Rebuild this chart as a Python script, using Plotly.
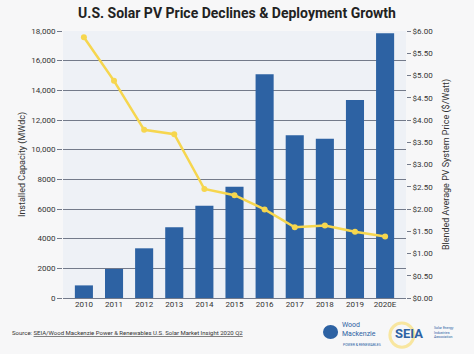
import plotly.graph_objects as go

years = ["2010", "2011", "2012", "2013", "2014", "2015", "2016", "2017", "2018", "2019", "2020E"]
capacity_mw = [850, 1960, 3350, 4770, 6220, 7500, 15080, 10970, 10740, 13350, 17850]
price_usd = [5.86, 4.88, 3.78, 3.68, 2.45, 2.31, 1.99, 1.59, 1.63, 1.49, 1.38]

left_tickvals = [0, 2000, 4000, 6000, 8000, 10000, 12000, 14000, 16000, 18000]
left_ticktext = ["0", "2000", "4000", "6000", "8000", "10,000", "12,000", "14,000", "16,000", "18,000"]

BAR = "#2D62A3"
LINE = "#F6D64E"
GRID = "#737A8A"
FONT = "Roboto"

fig = go.Figure()
fig.add_trace(go.Bar(x=years, y=capacity_mw, marker=dict(color=BAR, line=dict(width=0)),
                     name="Installed Capacity", yaxis="y"))
fig.add_trace(go.Scatter(x=years, y=price_usd, mode="lines+markers", yaxis="y2",
                         line=dict(color=LINE, width=2.5),
                         marker=dict(color=LINE, size=6), name="Price"))

fig.update_layout(
    width=474, height=354,
    margin=dict(l=63, r=68, t=31, b=56),
    paper_bgcolor="#F7F7F8",
    plot_bgcolor="#EEF1F6",
    showlegend=False,
    bargap=0.4,
    font=dict(family=FONT, color="#333333", size=8),
    title=dict(text="<b>U.S. Solar PV Price Declines &amp; Deployment Growth</b>",
               x=0.5, xanchor="center", y=0.963, yanchor="middle",
               font=dict(family=FONT, size=14, color="#222222")),
    xaxis=dict(type="category", showgrid=False, ticks="", tickfont=dict(size=8, color="#333333"),
               showline=False),
    yaxis=dict(range=[0, 18000], tickvals=left_tickvals, ticktext=left_ticktext,
               showgrid=True, gridcolor=GRID, gridwidth=1.2,
               ticks="outside", ticklen=5, tickcolor=GRID, zeroline=True,
               zerolinecolor=GRID, zerolinewidth=1.2,
               title=dict(text="Installed Capacity (MWdc)", font=dict(size=9, color="#333333"), standoff=4),
               tickfont=dict(size=8, color="#333333")),
    yaxis2=dict(range=[0, 6], dtick=0.5, tickformat="$.2f", overlaying="y", side="right",
                showgrid=False, zeroline=False, ticks="outside", ticklen=4, tickcolor=GRID,
                title=dict(text="Blended Average PV System Price ($/Watt)", font=dict(size=9, color="#333333"), standoff=10),
                tickfont=dict(size=8, color="#333333")),
)

fig.add_annotation(text="Source: <u>SEIA/Wood Mackenzie Power &amp; Renewables U.S. Solar Market Insight 2020 Q2</u>",
                   xref="paper", yref="paper", x=-0.155, y=-0.131, xanchor="left", yanchor="middle",
                   showarrow=False, font=dict(family=FONT, size=6, color="#333333"))
# logos approximated with shapes and text
fig.add_shape(type="circle", xref="paper", yref="paper", x0=0.758, x1=0.802, y0=-0.154, y1=-0.101,
              fillcolor="#2D62A3", line=dict(width=0))
fig.add_annotation(text="✓", xref="paper", yref="paper", x=0.78, y=-0.127, showarrow=False,
                   font=dict(size=8, color="white"))
fig.add_annotation(text="Wood<br>Mackenzie", xref="paper", yref="paper", x=0.807, y=-0.118,
                   xanchor="left", yanchor="middle", showarrow=False, align="left",
                   font=dict(family=FONT, size=7, color="#2D62A3"))
fig.add_annotation(text="POWER &amp; RENEWABLES", xref="paper", yref="paper", x=0.81, y=-0.176,
                   xanchor="left", yanchor="middle", showarrow=False,
                   font=dict(family=FONT, size=3.5, color="#2D62A3"))
fig.add_shape(type="circle", xref="paper", yref="paper", x0=0.953, x1=1.023, y0=-0.184, y1=-0.094,
              fillcolor="rgba(0,0,0,0)", line=dict(width=3, color="#F8E6A0"))
fig.add_annotation(text="<b>SEIA</b>", xref="paper", yref="paper", x=0.963, y=-0.134,
                   xanchor="left", yanchor="middle", showarrow=False,
                   font=dict(family=FONT, size=13, color="#2D62A3"))
fig.add_annotation(text="Solar Energy<br>Industries<br>Association", xref="paper", yref="paper", x=1.075, y=-0.13,
                   xanchor="left", yanchor="middle", showarrow=False, align="left",
                   font=dict(family=FONT, size=3.5, color="#2D62A3"))

fig.write_html("out.html")
